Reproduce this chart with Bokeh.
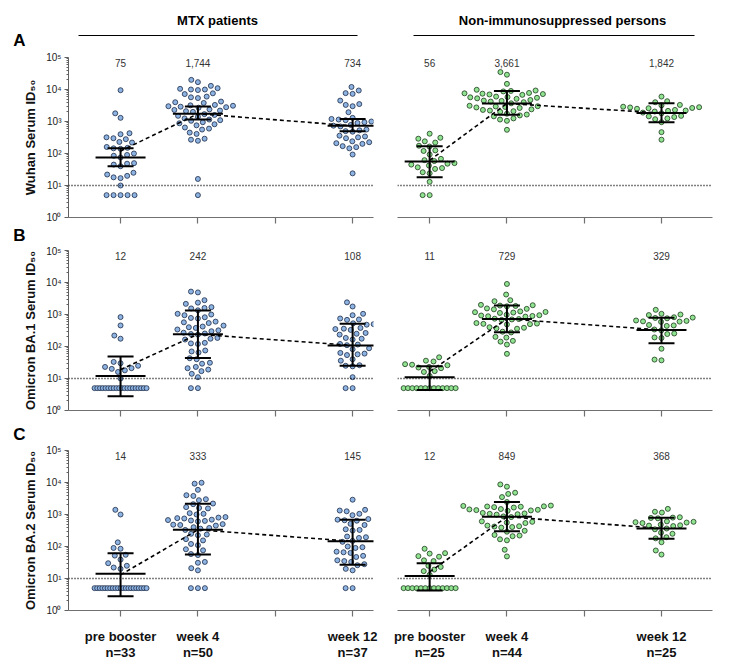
import math
from bokeh.plotting import figure
from bokeh.models import Range1d, FixedTicker, Span, Whisker, TeeHead, ColumnDataSource
from bokeh.layouts import column, row
from bokeh.embed import file_html
from bokeh.resources import INLINE
from bokeh.core.properties import value

FONT = "Liberation Sans"

# ---------------- data ----------------
groups = ["pre booster", "week 4", "week 12"]
group_x = [1, 2, 4]
n_mtx = [33, 50, 37]
n_ctrl = [25, 44, 25]
y_titles = ["Wuhan Serum ID₅₀", "Omicron BA.1 Serum ID₅₀", "Omicron BA.2 Serum ID₅₀"]
panel_letters = ["A", "B", "C"]
headers = ["MTX patients", "Non-immunosuppressed persons"]

# Row A - Wuhan
wuhan_mtx_pre = [9500, 1800, 1300, 430, 400, 320, 300, 280, 230, 220, 160, 150, 145, 140,
                 100, 90, 85, 75, 50, 48, 45, 40, 25, 22, 20, 18, 17, 10, 5, 5, 5, 5, 5]
wuhan_mtx_w4 = [20000, 17000, 13000, 11000, 10500, 10000, 10000, 9600, 7600, 7200, 6000, 5700,
                5400, 4200, 4000, 3800, 3300, 3200, 3100, 3000, 2900, 2800, 2700, 2400, 2300,
                2200, 2100, 2000, 1700, 1600, 1500, 1400, 1250, 1150, 1100, 1050, 950, 880, 820,
                760, 650, 600, 560, 450, 410, 290, 270, 250, 16, 5]
wuhan_mtx_w12 = [12000, 9300, 7700, 7300, 4500, 3500, 3300, 3000, 1950, 1300, 1250, 1200, 1150,
                 1100, 1000, 950, 900, 780, 740, 700, 560, 530, 500, 480, 360, 340, 320, 300,
                 240, 225, 210, 200, 170, 158, 145, 93, 24]
wuhan_ctrl_pre = [415, 310, 290, 240, 220, 175, 165, 125, 120, 93, 68, 62, 58, 50, 48, 45, 42,
                  37, 35, 33, 26, 24, 13, 5, 5]
wuhan_ctrl_w4 = [35000, 29000, 15000, 9800, 9300, 9000, 8700, 7800, 7600, 7400, 7200, 7000, 6800,
                 6000, 5800, 5700, 5500, 5300, 5100, 4700, 4500, 4400, 4200, 4000, 3700, 3100,
                 3000, 2950, 2850, 2750, 2650, 2400, 2300, 2200, 2100, 2000, 1750, 1650, 1550,
                 1450, 1250, 1150, 1050, 550]
wuhan_ctrl_w12 = [6000, 4300, 4000, 3300, 3200, 2900, 2800, 2750, 2650, 2600, 2500, 2300, 2200,
                  2150, 2050, 1900, 1800, 1500, 1450, 1380, 1250, 1180, 950, 465, 270]

# Row B - Omicron BA.1
ba1_mtx_pre = [830, 455, 220, 175, 33, 30, 25, 23, 21, 20, 18, 16, 10] + [5] * 20
ba1_mtx_w4 = [5200, 4900, 2800, 2350, 2150, 1700, 1600, 1550, 1350, 1050, 1000, 950, 820, 780,
              750, 600, 570, 540, 450, 420, 400, 380, 340, 320, 300, 270, 255, 245, 235, 185,
              175, 165, 130, 125, 120, 75, 70, 65, 43, 40, 31, 29, 23, 21, 19, 17, 14, 11, 5, 5]
ba1_mtx_w12 = [2400, 1780, 1050, 950, 750, 700, 680, 530, 500, 480, 380, 360, 350, 330, 265, 250,
               235, 185, 175, 165, 120, 115, 110, 88, 82, 63, 60, 57, 54, 40, 36, 26, 25, 24,
               11, 5, 5]
ba1_ctrl_pre = [46, 36, 34, 28, 27, 26, 23, 22, 21, 17, 16, 12] + [5] * 13
ba1_ctrl_w4 = [9000, 4200, 2800, 2600, 2000, 1950, 1900, 1850, 1800, 1550, 1500, 1450, 1250,
               1200, 1180, 1150, 1120, 980, 950, 930, 900, 880, 860, 740, 720, 700, 680, 540,
               520, 510, 500, 490, 400, 385, 370, 360, 290, 275, 200, 190, 150, 142, 115, 59]
ba1_ctrl_w12 = [1400, 1050, 1000, 960, 820, 800, 780, 760, 650, 630, 610, 600, 590, 470, 455,
                440, 340, 320, 255, 245, 192, 184, 85, 39, 37]

# Row C - Omicron BA.2
ba2_mtx_pre = [1400, 1000, 135, 90, 85, 55, 52, 39, 30, 25, 22, 20] + [5] * 21
ba2_mtx_w4 = [9800, 9200, 5900, 4000, 3800, 3000, 2800, 2200, 2100, 1700, 1600, 1550, 1100, 1050,
              1000, 830, 800, 770, 750, 690, 670, 650, 630, 610, 500, 480, 470, 450, 400, 380,
              360, 330, 250, 237, 225, 170, 155, 120, 110, 82, 76, 58, 54, 33, 31, 21, 18, 5, 5, 5]
ba2_mtx_w12 = [2900, 1400, 1330, 1260, 1050, 950, 720, 690, 660, 640, 510, 470, 345, 330, 315,
               205, 195, 185, 150, 140, 100, 95, 90, 69, 66, 63, 51, 47, 37, 35, 33, 28, 26,
               20, 18, 5, 5]
ba2_ctrl_pre = [85, 62, 60, 50, 48, 37, 35, 25, 23, 19, 17, 13] + [5] * 13
ba2_ctrl_w4 = [8700, 7400, 4800, 4400, 3500, 2450, 1900, 1850, 1800, 1780, 1750, 1700, 1650, 1480,
               1440, 1400, 1370, 1340, 1300, 1120, 1080, 1050, 1020, 990, 870, 830, 610, 590,
               560, 540, 450, 430, 420, 405, 390, 310, 290, 230, 220, 210, 168, 156, 79, 49]
ba2_ctrl_w12 = [1500, 1220, 1150, 820, 800, 780, 760, 610, 590, 575, 560, 540, 480, 460, 450,
                435, 365, 345, 270, 250, 195, 180, 136, 75, 56]

# geometric means (printed above the groups)
gmt_wuhan_mtx = [75, 1744, 734]
gmt_wuhan_ctrl = [56, 3661, 1842]
gmt_ba1_mtx = [12, 242, 108]
gmt_ba1_ctrl = [11, 729, 329]
gmt_ba2_mtx = [14, 333, 145]
gmt_ba2_ctrl = [12, 849, 368]

# error bars (lower, upper)
lo_wuhan_mtx = [40, 1150, 500]
hi_wuhan_mtx = [145, 2950, 1200]
lo_wuhan_ctrl = [18, 1620, 950]
hi_wuhan_ctrl = [170, 8900, 3700]
lo_ba1_mtx = [2.8, 44, 25]
hi_ba1_mtx = [49, 1330, 510]
lo_ba1_ctrl = [4.4, 280, 126]
hi_ba1_ctrl = [24, 1900, 790]
lo_ba2_mtx = [2.8, 56, 27]
hi_ba2_mtx = [62, 2150, 680]
lo_ba2_ctrl = [4.2, 300, 174]
hi_ba2_ctrl = [30, 2450, 790]

# dashed connecting line
trend_wuhan_mtx = [120, 1744, 734]
trend_wuhan_ctrl = [61, 3661, 1842]
trend_ba1_mtx = [19, 242, 108]
trend_ba1_ctrl = [16.6, 729, 329]
trend_ba2_mtx = [13, 333, 145]
trend_ba2_ctrl = [16, 849, 368]

limit_of_detection = 10

BLUE_FILL, BLUE_LINE = "#8DB3E3", "#1d2b45"
GREEN_FILL, GREEN_LINE = "#90E390", "#1e3a1e"

# ---------------- layout constants ----------------
PAGE_PAD = 8
LEFT_W, RIGHT_W = 380 + PAGE_PAD, 328
FULL_W = LEFT_W + RIGHT_W
LEFT_XR = (0.327, 4.27)
RIGHT_XR = (0.584, 4.66)
LEFT_BORDERS = (60 + PAGE_PAD, 15)
RIGHT_BORDERS = (9, 4)
FRAME_H = 160
PX_PER_DECADE = FRAME_H / 5.0


def px_per_unit(left):
    xr, w, (bl, br) = (LEFT_XR, LEFT_W, LEFT_BORDERS) if left else (RIGHT_XR, RIGHT_W, RIGHT_BORDERS)
    return (w - bl - br) / (xr[1] - xr[0])


def swarm(vals, pxu, d=7.0, cap=26.0):
    ys = [math.log10(v) * PX_PER_DECADE for v in vals]
    n = len(vals)
    off = [0.0] * n
    placed = []
    ties = {}
    for i, v in enumerate(vals):
        ties.setdefault(v, []).append(i)
    done = set()
    for v, idxs in ties.items():
        k = len(idxs)
        if k >= 4:
            s = min(d, 2 * cap / (k - 1))
            for j, i in enumerate(idxs):
                off[i] = (j - (k - 1) / 2) * s
                placed.append((off[i], ys[i]))
                done.add(i)
    rest = sorted([i for i in range(n) if i not in done], key=lambda i: ys[i])
    for i in rest:
        y = ys[i]
        cands = [0.0]
        for (px, py) in placed:
            dy = abs(y - py)
            if dy < d:
                w = math.sqrt(d * d - dy * dy)
                cands += [px - w, px + w]
        cands.sort(key=abs)
        chosen = cands[0]
        for c in cands:
            if all((c - px) ** 2 + (y - py) ** 2 >= d * d - 1e-6 for px, py in placed):
                chosen = c
                break
        off[i] = chosen
        placed.append((chosen, y))
    return [o / pxu for o in off]


def make_panel(series, gmt, lo, hi, trend, fill, line, left, ylabel, mbt, mbb):
    if left:
        xr, width, (mbl, mbr) = LEFT_XR, LEFT_W, LEFT_BORDERS
    else:
        xr, width, (mbl, mbr) = RIGHT_XR, RIGHT_W, RIGHT_BORDERS
    height = mbt + FRAME_H + mbb
    p = figure(width=width, height=height, y_axis_type="log",
               x_range=Range1d(*xr), y_range=Range1d(1, 1e5),
               output_backend="svg", toolbar_location=None,
               min_border_left=mbl, min_border_right=mbr,
               min_border_top=mbt, min_border_bottom=mbb,
               y_axis_location="left" if left else None)
    p.outline_line_color = None
    p.grid.visible = False
    p.background_fill_color = "white"
    p.border_fill_color = "white"

    pxu = px_per_unit(left)

    # x axis: ticks only
    xa = p.xaxis[0]
    xa.ticker = FixedTicker(ticks=[1, 2, 3, 4], minor_ticks=[])
    xa.axis_line_color = "#707070"
    xa.axis_line_width = 1.2
    xa.major_tick_line_color = "#707070"
    xa.major_tick_line_width = 1.2
    xa.major_tick_out = 6
    xa.major_tick_in = 0
    xa.minor_tick_line_color = None
    xa.major_label_text_font_size = "0px"
    xa.major_label_text_color = None
    xa.major_label_standoff = 0

    # y axis
    if left:
        ya = p.yaxis[0]
        major = [1, 10, 100, 1000, 10000, 100000]
        minor = [m * 10 ** k for k in range(5) for m in range(2, 10)]
        ya.ticker = FixedTicker(ticks=major, minor_ticks=minor)
        sup = "⁰¹²³⁴⁵"
        ya.major_label_overrides = {t: "10" + sup[i] for i, t in enumerate(major)}
        ya.major_label_text_font = FONT
        ya.major_label_text_font_size = "10px"
        ya.major_label_text_color = "#222222"
        ya.major_label_standoff = 3
        ya.axis_line_color = "#606060"
        ya.major_tick_line_color = "#606060"
        ya.minor_tick_line_color = "#606060"
        ya.major_tick_out = 4
        ya.major_tick_in = 0
        ya.minor_tick_out = 2
        ya.minor_tick_in = 0
        ya.axis_label = ylabel
        ya.axis_label_text_font = FONT
        ya.axis_label_text_font_style = "bold"
        ya.axis_label_text_font_size = "13px"
        ya.axis_label_text_color = "#111111"
        ya.axis_label_standoff = 5

    # limit of detection
    p.add_layout(Span(location=limit_of_detection, dimension="width", line_color="black",
                      line_dash="1 2", line_width=1.4))

    # points
    for gi, vals in enumerate(series):
        offs = swarm(vals, pxu)
        xs = [group_x[gi] + o for o in offs]
        p.scatter(xs, vals, size=5, fill_color=fill, line_color=line, line_width=0.8)

    # error bars and means
    src = ColumnDataSource(dict(x=group_x, lo=lo, hi=hi))
    w = Whisker(source=src, base="x", lower="lo", upper="hi", dimension="height",
                line_color="black", line_width=2, level="annotation",
                lower_head=TeeHead(size=26, line_width=2, line_color="black"),
                upper_head=TeeHead(size=26, line_width=2, line_color="black"))
    p.add_layout(w)
    p.scatter(group_x, gmt, marker="dash", size=50, line_color="black", line_width=2)
    p.line(group_x, trend, line_color="black", line_dash="4 3", line_width=1.6)

    # printed geometric means
    p.text(x=group_x, y=[10 ** 4.84] * 3, text=[f"{g:,}" for g in gmt],
           text_align="center", text_baseline="middle", text_font=value(FONT),
           text_font_size="10px", text_color="#333333")
    return p


def label_fig(left, n_list, h):
    """Category names under the bottom panels, on the same x scale as the panels."""
    if left:
        xr, width, (mbl, mbr) = LEFT_XR, LEFT_W, LEFT_BORDERS
    else:
        xr, width, (mbl, mbr) = RIGHT_XR, RIGHT_W, RIGHT_BORDERS
    pxu = px_per_unit(left)
    x_start = xr[0] - mbl / pxu          # same scale, frame widened to both edges
    x_end = x_start + width / pxu
    f = figure(width=width, height=h, x_range=Range1d(x_start, x_end), y_range=Range1d(h, 0),
               output_backend="svg", toolbar_location=None, min_border=0,
               x_axis_location=None, y_axis_location=None)
    f.outline_line_color = None
    f.grid.visible = False
    f.background_fill_color = "white"
    f.border_fill_color = "white"
    f.text(x=group_x, y=[17] * 3, text=groups, text_align="center", text_baseline="middle",
           text_font=value(FONT), text_font_style="bold", text_font_size="13px",
           text_color="#111111")
    f.text(x=group_x, y=[33] * 3, text=[f"n={n}" for n in n_list], text_align="center",
           text_baseline="middle", text_font=value(FONT), text_font_style="bold",
           text_font_size="13px", text_color="#111111")
    return f


def deco_fig(h):
    f = figure(width=FULL_W, height=h, x_range=Range1d(0, FULL_W),
               y_range=Range1d(h, 0), output_backend="svg", toolbar_location=None,
               min_border=0, x_axis_location=None, y_axis_location=None)
    f.outline_line_color = None
    f.grid.visible = False
    f.background_fill_color = "white"
    f.border_fill_color = "white"
    return f


def letter(f, txt, x, y):
    f.text(x=[x], y=[y], text=[txt], text_align="center", text_baseline="middle",
           text_font=value(FONT), text_font_style="bold", text_font_size="17px",
           text_color="black")


HEADER_H = 43 + PAGE_PAD
header = deco_fig(HEADER_H)
header.text(x=[217, 562], y=[20, 20], text=headers, text_align="center",
            text_baseline="middle", text_font=value(FONT), text_font_style="bold",
            text_font_size="13px", text_color="black")
header.segment(x0=[78, 413], y0=[35, 35], x1=[357, 694], y1=[35, 35],
               line_color="black", line_width=1)
letter(header, panel_letters[0], 19, 40)

gap_b = deco_fig(20)
letter(gap_b, panel_letters[1], 19, 10)
gap_c = deco_fig(24)
letter(gap_c, panel_letters[2], 19, 13.5)

a_l = make_panel([wuhan_mtx_pre, wuhan_mtx_w4, wuhan_mtx_w12], gmt_wuhan_mtx, lo_wuhan_mtx,
                 hi_wuhan_mtx, trend_wuhan_mtx, BLUE_FILL, BLUE_LINE, True, y_titles[0], 6, 8)
a_r = make_panel([wuhan_ctrl_pre, wuhan_ctrl_w4, wuhan_ctrl_w12], gmt_wuhan_ctrl, lo_wuhan_ctrl,
                 hi_wuhan_ctrl, trend_wuhan_ctrl, GREEN_FILL, GREEN_LINE, False, y_titles[0], 6, 8)
b_l = make_panel([ba1_mtx_pre, ba1_mtx_w4, ba1_mtx_w12], gmt_ba1_mtx, lo_ba1_mtx, hi_ba1_mtx,
                 trend_ba1_mtx, BLUE_FILL, BLUE_LINE, True, y_titles[1], 5, 10)
b_r = make_panel([ba1_ctrl_pre, ba1_ctrl_w4, ba1_ctrl_w12], gmt_ba1_ctrl, lo_ba1_ctrl,
                 hi_ba1_ctrl, trend_ba1_ctrl, GREEN_FILL, GREEN_LINE, False, y_titles[1], 5, 10)
c_l = make_panel([ba2_mtx_pre, ba2_mtx_w4, ba2_mtx_w12], gmt_ba2_mtx, lo_ba2_mtx, hi_ba2_mtx,
                 trend_ba2_mtx, BLUE_FILL, BLUE_LINE, True, y_titles[2], 6, 9)
c_r = make_panel([ba2_ctrl_pre, ba2_ctrl_w4, ba2_ctrl_w12], gmt_ba2_ctrl, lo_ba2_ctrl,
                 hi_ba2_ctrl, trend_ba2_ctrl, GREEN_FILL, GREEN_LINE, False, y_titles[2], 6, 9)
lab_l = label_fig(True, n_mtx, 49)
lab_r = label_fig(False, n_ctrl, 49)

layout = column(header, row(a_l, a_r), gap_b, row(b_l, b_r), gap_c, row(c_l, c_r),
                row(lab_l, lab_r))

open("out.html", "w").write(file_html(layout, INLINE))
